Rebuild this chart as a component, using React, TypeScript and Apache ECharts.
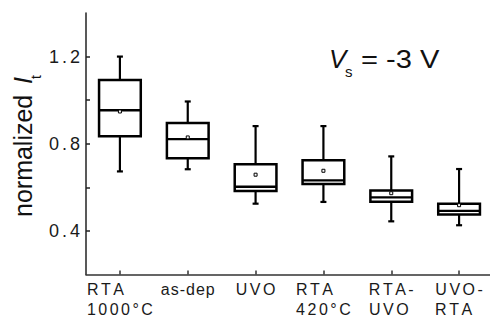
import React, { useEffect, useRef } from 'react';
import * as echarts from 'echarts';

const categories = ['RTA\n1000°C', 'as-dep', 'UVO', 'RTA\n420°C', 'RTA-\nUVO', 'UVO-\nRTA'];
const whiskerLow = [0.673, 0.683, 0.525, 0.533, 0.444, 0.426];
const q1 = [0.834, 0.733, 0.583, 0.615, 0.534, 0.475];
const median = [0.954, 0.821, 0.603, 0.632, 0.554, 0.492];
const q3 = [1.093, 0.895, 0.706, 0.724, 0.585, 0.525];
const whiskerHigh = [1.2, 0.994, 0.881, 0.881, 0.742, 0.684];
const mean = [0.948, 0.829, 0.658, 0.676, 0.573, 0.518];
const yTickValues = [0.4, 0.6, 0.8, 1.0, 1.2];
const yLabelValues = [0.4, 0.8, 1.2];

const FONT = '"Liberation Sans", Arial, Helvetica, sans-serif';
const INK = '#111';

function buildXLabels() {
  const canvas = document.createElement('canvas');
  const ctx = canvas.getContext('2d') as CanvasRenderingContext2D;
  ctx.font = `16px ${FONT}`;
  const base = { fontSize: 16, fontFamily: FONT, color: '#1a1a1a', lineHeight: 20 };
  const rich: any = {
    c0: { ...base },
    c1: { ...base, padding: [0, 0, 0, 1] },
    c2: { ...base, padding: [0, 0, 0, 2.5] },
  };
  const texts = categories.map((cat, i) => {
    const sp = i === 1 ? 1 : 2.5;
    const key = i === 1 ? 'c1' : 'c2';
    const lines = cat.split('\n');
    const widths = lines.map((l) =>
      Array.from(l).reduce((w, ch, k) => w + ctx.measureText(ch).width + (k ? sp : 0), 0)
    );
    const maxW = Math.max(...widths);
    return lines
      .map((l, li) => {
        let s = Array.from(l)
          .map((ch, k) => `{${k ? key : 'c0'}|${ch}}`)
          .join('');
        const extra = Math.round(maxW - widths[li]);
        if (extra > 0) {
          rich['sp' + extra] = { ...base, width: extra };
          s += `{sp${extra}| }`;
        }
        return s;
      })
      .join('\n');
  });
  return { rich, texts };
}

export default function App() {
  const ref = useRef<HTMLDivElement>(null);
  useEffect(() => {
    if (!ref.current) return;
    const chart = echarts.init(ref.current, null, { renderer: 'svg' });
    const { rich: xRich, texts: xTexts } = buildXLabels();
    const data = categories.map((_, i) => [i, whiskerLow[i], q1[i], median[i], q3[i], whiskerHigh[i], mean[i]]);

    const option: any = {
      animation: false,
      backgroundColor: '#fff',
      grid: { left: 86, top: 13, width: 407, height: 261.5, containLabel: false, outerBoundsMode: 'none' },
      xAxis: {
        type: 'category',
        data: categories,
        boundaryGap: true,
        axisLine: { show: true, lineStyle: { color: '#333', width: 1.5 } },
        axisTick: { show: true, inside: true, length: 4, alignWithLabel: true, lineStyle: { color: '#333', width: 1.5 } },
        axisLabel: {
          margin: 5,
          interval: 0,
          formatter: (_v: string, idx: number) => xTexts[idx],
          rich: xRich,
        },
        splitLine: { show: false },
      },
      yAxis: {
        type: 'value',
        min: 0.2,
        max: 1.4,
        interval: 0.2,
        axisLine: { show: true, lineStyle: { color: '#222', width: 1.5 } },
        axisTick: { show: true, inside: true, length: 4, customValues: yTickValues, lineStyle: { color: '#222', width: 1.5 } },
        axisLabel: {
          margin: 6,
          customValues: yLabelValues,
          formatter: (v: number) =>
            Array.from(v.toFixed(1))
              .map((ch, k) => `{${k ? 'y1' : 'y0'}|${ch}}`)
              .join(''),
          rich: {
            y0: { fontSize: 18, fontFamily: FONT, color: '#1a1a1a' },
            y1: { fontSize: 18, fontFamily: FONT, color: '#1a1a1a', padding: [0, 0, 0, 3] },
          },
        },
        splitLine: { show: false },
      },
      series: [
        {
          type: 'custom',
          data,
          encode: { x: 0, y: [1, 2, 3, 4, 5, 6] },
          renderItem: (_params: any, api: any) => {
            const x = api.value(0);
            const pLow = api.coord([x, api.value(1)]);
            const pQ1 = api.coord([x, api.value(2)]);
            const pMed = api.coord([x, api.value(3)]);
            const pQ3 = api.coord([x, api.value(4)]);
            const pHigh = api.coord([x, api.value(5)]);
            const pMean = api.coord([x, api.value(6)]);
            const cx = pLow[0];
            const bw = api.size([1, 0])[0] * 0.615;
            const lineStyle = { stroke: '#000', lineWidth: 2.2 };
            return {
              type: 'group',
              children: [
                { type: 'line', shape: { x1: cx, y1: pHigh[1], x2: cx, y2: pQ3[1] }, style: lineStyle },
                { type: 'line', shape: { x1: cx, y1: pQ1[1], x2: cx, y2: pLow[1] }, style: lineStyle },
                { type: 'line', shape: { x1: cx - 3, y1: pHigh[1], x2: cx + 3, y2: pHigh[1] }, style: lineStyle },
                { type: 'line', shape: { x1: cx - 3, y1: pLow[1], x2: cx + 3, y2: pLow[1] }, style: lineStyle },
                {
                  type: 'rect',
                  shape: { x: cx - bw / 2, y: pQ3[1], width: bw, height: pQ1[1] - pQ3[1] },
                  style: { fill: '#fff', stroke: '#000', lineWidth: 2.5 },
                },
                { type: 'line', shape: { x1: cx - bw / 2, y1: pMed[1], x2: cx + bw / 2, y2: pMed[1] }, style: { stroke: '#000', lineWidth: 2.4 } },
                {
                  type: 'rect',
                  shape: { x: pMean[0] - 1.5, y: pMean[1] - 1.5, width: 3, height: 3 },
                  style: { fill: '#fff', stroke: '#000', lineWidth: 1 },
                },
              ],
            };
          },
        },
      ],
      graphic: [
        {
          type: 'group',
          x: 23,
          y: 217,
          rotation: Math.PI / 2,
          children: [
            { type: 'text', x: 0, y: 0, style: { text: 'normalized', fontSize: 25, fontFamily: FONT, fill: INK, align: 'left', verticalAlign: 'middle' } },
            { type: 'text', x: 133, y: 0, style: { text: 'I', fontSize: 25, fontStyle: 'italic', fontFamily: FONT, fill: INK, align: 'left', verticalAlign: 'middle' } },
            { type: 'text', x: 138, y: 13, style: { text: 't', fontSize: 14, fontFamily: FONT, fill: INK, align: 'left', verticalAlign: 'middle' } },
          ],
        },
        { type: 'text', x: 329, y: 59, style: { text: 'V', fontSize: 26, fontStyle: 'italic', fontFamily: FONT, fill: INK, align: 'left', verticalAlign: 'middle' } },
        { type: 'text', x: 345, y: 71, style: { text: 's', fontSize: 15, fontFamily: FONT, fill: INK, align: 'left', verticalAlign: 'middle' } },
        { type: 'text', x: 361, y: 59, scaleX: 1.12, style: { text: '= -3 V', fontSize: 26, fontFamily: FONT, fill: INK, align: 'left', verticalAlign: 'middle' } },
      ],
    };
    chart.setOption(option);
    return () => chart.dispose();
  }, []);
  return <div ref={ref} style={{ position: 'fixed', left: 0, top: 0, width: 490, height: 320 }} />;
}
